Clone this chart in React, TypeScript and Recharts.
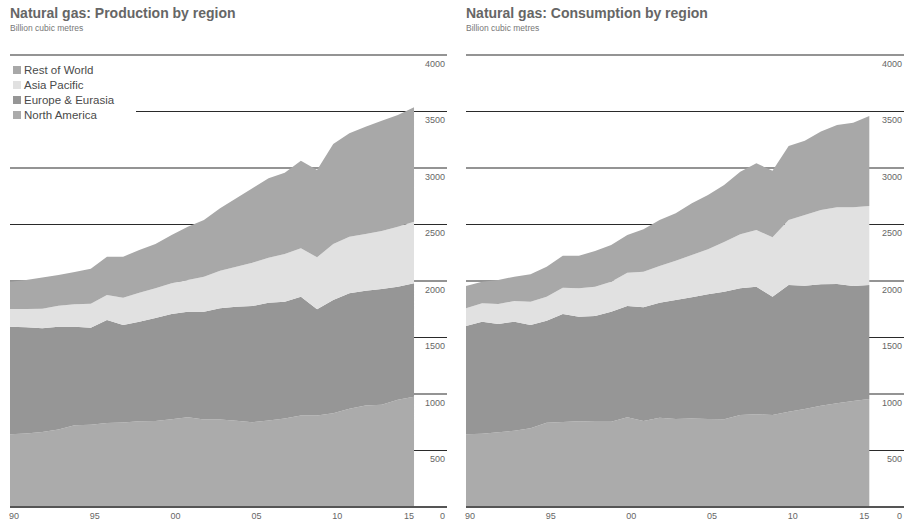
import React from "react";
import {
  AreaChart,
  Area,
  XAxis,
  YAxis,
  CartesianGrid,
  ReferenceLine,
  Legend,
} from "recharts";

// Natural gas production / consumption by region, billion cubic metres
const YEARS = [
  1990, 1991, 1992, 1993, 1994, 1995, 1996, 1997, 1998, 1999, 2000, 2001, 2002,
  2003, 2004, 2005, 2006, 2007, 2008, 2009, 2010, 2011, 2012, 2013, 2014, 2015,
];

const PROD_NORTH_AMERICA = [
  643, 650, 664, 686, 723, 728, 743, 748, 758, 760, 776, 794, 774, 775, 763, 750,
  766, 784, 809, 809, 829, 870, 898, 905, 950, 975,
];
const PROD_EUROPE_EURASIA = [
  953, 940, 917, 910, 873, 859, 912, 863, 882, 913, 932, 934, 954, 983, 1010,
  1029, 1042, 1033, 1052, 941, 1003, 1021, 1016, 1024, 1000, 1005,
];
const PROD_ASIA_PACIFIC = [
  156, 162, 174, 186, 198, 212, 221, 241, 257, 262, 272, 281, 310, 333, 354, 383,
  398, 422, 428, 460, 495, 501, 502, 514, 531, 545,
];
const PROD_REST_OF_WORLD = [
  242, 257, 275, 271, 286, 310, 339, 363, 377, 392, 427, 472, 502, 552, 605, 659,
  703, 720, 776, 772, 885, 915, 950, 976, 988, 1012,
];

const CONS_NORTH_AMERICA = [
  643, 649, 661, 675, 696, 746, 752, 758, 755, 755, 794, 761, 790, 779, 783, 779,
  776, 814, 820, 814, 843, 867, 897, 918, 938, 956,
];
const CONS_EUROPE_EURASIA = [
  959, 991, 959, 965, 915, 903, 956, 926, 935, 973, 985, 1006, 1018, 1053, 1073,
  1103, 1129, 1121, 1130, 1047, 1122, 1092, 1074, 1056, 1018, 1009,
];
const CONS_ASIA_PACIFIC = [
  156, 163, 177, 183, 206, 212, 233, 251, 260, 266, 295, 315, 325, 348, 374, 398,
  440, 478, 501, 526, 575, 625, 657, 678, 696, 699,
];
const CONS_REST_OF_WORLD = [
  198, 191, 212, 215, 242, 266, 283, 289, 315, 325, 333, 375, 407, 419, 458, 481,
  505, 554, 590, 589, 655, 658, 694, 729, 749, 796,
];

const X_TICKS = [1990, 1995, 2000, 2005, 2010, 2015];
const X_TICK_LABELS = ["90", "95", "00", "05", "10", "15"];
const Y_TICKS = [0, 500, 1000, 1500, 2000, 2500, 3000, 3500, 4000];

// stack order bottom -> top
const SERIES = [
  { key: "na", label: "North America", color: "#ababab" },
  { key: "ee", label: "Europe & Eurasia", color: "#969696" },
  { key: "ap", label: "Asia Pacific", color: "#e1e1e1" },
  { key: "row", label: "Rest of World", color: "#a8a8a8" },
];

const FONT = '"Liberation Sans", Arial, sans-serif';

function buildRows(na: number[], ee: number[], ap: number[], row: number[]) {
  return YEARS.map((year, i) => ({ year, na: na[i], ee: ee[i], ap: ap[i], row: row[i] }));
}

const productionRows = buildRows(
  PROD_NORTH_AMERICA,
  PROD_EUROPE_EURASIA,
  PROD_ASIA_PACIFIC,
  PROD_REST_OF_WORLD
);
const consumptionRows = buildRows(
  CONS_NORTH_AMERICA,
  CONS_EUROPE_EURASIA,
  CONS_ASIA_PACIFIC,
  CONS_REST_OF_WORLD
);

function XTick({ x, y, payload, index }: any) {
  const last = index === X_TICKS.length - 1;
  const i = X_TICKS.indexOf(payload.value);
  return (
    <text
      x={last ? x : x - 1}
      y={y + 12}
      textAnchor={last ? "end" : "start"}
      fontSize={9}
      fontFamily={FONT}
      fill="#666"
    >
      {X_TICK_LABELS[i]}
    </text>
  );
}

// labels sit just under their grid line, right-aligned to the line's end
function YTick({ x, y, payload }: any) {
  return (
    <text x={x - 2} y={y + 11.5} textAnchor="end" fontSize={9} fontFamily={FONT} fill="#666">
      {payload.value}
    </text>
  );
}

function LegendBox() {
  return (
    <div style={{ background: "#fff", width: 126, padding: "4px 0 4px 0", fontFamily: FONT }}>
      {[...SERIES].reverse().map((s) => (
        <div
          key={s.key}
          style={{ display: "flex", alignItems: "center", height: 15, fontSize: 11.5, color: "#4a4a4a" }}
        >
          <span
            style={{ display: "inline-block", width: 8, height: 8, background: s.color, marginLeft: 3, marginRight: 3 }}
          />
          {s.label}
        </div>
      ))}
    </div>
  );
}

interface PanelProps {
  rows: Record<string, number>[];
  left: number;
  marginLeft: number;
  marginRight: number;
  xMax: number;
  title: string;
  showLegend?: boolean;
}

function Panel({ rows, left, marginLeft, marginRight, xMax, title, showLegend }: PanelProps) {
  return (
    <div style={{ position: "absolute", left, top: 0, width: 452, height: 522 }}>
      <div
        style={{
          position: "absolute",
          left: marginLeft,
          top: 5,
          fontFamily: FONT,
          fontWeight: 700,
          fontSize: 14,
          color: "#666",
          whiteSpace: "nowrap",
        }}
      >
        {title}
      </div>
      <div
        style={{
          position: "absolute",
          left: marginLeft,
          top: 23,
          fontFamily: FONT,
          fontSize: 8.5,
          color: "#777",
          whiteSpace: "nowrap",
        }}
      >
        Billion cubic metres
      </div>
      <AreaChart
        width={452}
        height={522}
        data={rows}
        margin={{ top: 55, right: marginRight, bottom: 0, left: marginLeft }}
      >
        <CartesianGrid stroke="#2a2a2a" strokeWidth={1.2} horizontal vertical={false} />
        <XAxis
          dataKey="year"
          type="number"
          domain={[1990, xMax]}
          ticks={X_TICKS}
          height={15}
          axisLine={false}
          tickLine={false}
          tickSize={0}
          tickMargin={0}
          tick={<XTick />}
          interval={0}
        />
        <YAxis
          orientation="right"
          domain={[0, 4000]}
          ticks={Y_TICKS}
          width={1}
          axisLine={false}
          tickLine={false}
          tickSize={0}
          tickMargin={0}
          tick={<YTick />}
          interval={0}
        />
        {SERIES.map((s) => (
          <Area
            key={s.key}
            type="linear"
            dataKey={s.key}
            name={s.label}
            stackId="1"
            stroke="none"
            fill={s.color}
            fillOpacity={1}
            isAnimationActive={false}
          />
        ))}
        <ReferenceLine y={0} stroke="#555" strokeWidth={2} />
        {showLegend && (
          <Legend
            layout="vertical"
            align="center"
            verticalAlign="middle"
            content={<LegendBox />}
            wrapperStyle={{ left: 10, top: 58, width: 126 }}
          />
        )}
      </AreaChart>
    </div>
  );
}

export default function App() {
  return (
    <div
      style={{
        position: "absolute",
        left: 0,
        top: 0,
        width: 904,
        height: 522,
        background: "#fff",
        overflow: "hidden",
      }}
    >
      <Panel
        rows={productionRows}
        left={0}
        marginLeft={10}
        marginRight={4}
        xMax={2017.04}
        title="Natural gas: Production by region"
        showLegend
      />
      <Panel
        rows={consumptionRows}
        left={452}
        marginLeft={14}
        marginRight={-1}
        xMax={2017.15}
        title="Natural gas: Consumption by region"
      />
    </div>
  );
}
